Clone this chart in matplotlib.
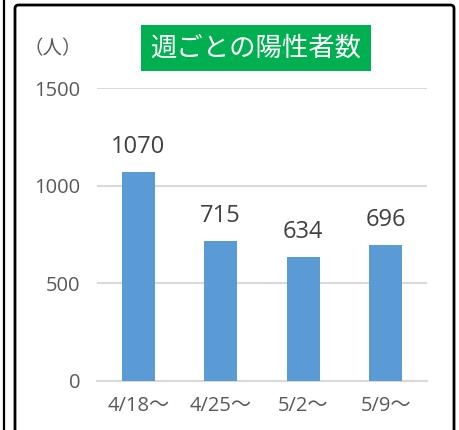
import matplotlib
matplotlib.use('Agg')
import matplotlib.pyplot as plt
from matplotlib.patches import FancyBboxPatch, Rectangle
from matplotlib.lines import Line2D

plt.rcParams['font.family'] = ['Open Sans', 'Noto Sans CJK JP']

weeks = ['4/18～', '4/25～', '5/2～', '5/9～']
cases = [1070, 715, 634, 696]
yticks = [0, 500, 1000, 1500]
title = '週ごとの陽性者数'
unit = '（人）'

W, H = 460, 430
fig = plt.figure(figsize=(W / 100, H / 100), dpi=100)

# frame of the panel and the edge of the neighbouring one
fig.patches.append(FancyBboxPatch((15 / W, -10 / H), 439 / W, 435 / H,
                                  boxstyle='round,pad=0,rounding_size=0.008',
                                  transform=fig.transFigure, fill=False,
                                  edgecolor='black', linewidth=2))
fig.lines.append(Line2D([4 / W, 4 / W], [0, 1], transform=fig.transFigure,
                        color='black', linewidth=1.6))

ax = fig.add_axes([97 / W, 49 / H, 330 / W, 293 / H])
x = range(len(weeks))
ax.bar(x, cases, width=0.4, color='#5B9BD5', zorder=3)
for xi, v in zip(x, cases):
    ax.text(xi, v + 97, str(v), ha='center', va='baseline',
            fontsize=17, color='#404040')

ax.set_xlim(-0.5, len(weeks) - 0.5)
ax.set_ylim(0, 1500)
ax.set_yticks(yticks)
ax.set_yticklabels([str(t) for t in yticks])
ax.set_xticks(list(x))
ax.set_xticklabels(weeks)
ax.tick_params(axis='both', length=0, labelsize=14.5, labelcolor='#595959')
ax.tick_params(axis='y', pad=12)
ax.tick_params(axis='x', pad=11)
ax.grid(axis='y', color='#D9D9D9', linewidth=1.5, zorder=0)
for s in ['top', 'right', 'left']:
    ax.spines[s].set_visible(False)
ax.spines['bottom'].set_color('#D9D9D9')
ax.spines['bottom'].set_linewidth(1.5)

# green title box
fig.patches.append(Rectangle((141 / W, 1 - 71 / H), 230 / W, 46 / H,
                             transform=fig.transFigure, facecolor='#00B050',
                             edgecolor='none'))
fig.text(256 / W, 1 - 48 / H, title, ha='center', va='center',
         fontsize=19, color='white', family='Noto Sans CJK JP')
fig.text(53 / W, 1 - 49 / H, unit, ha='center', va='center',
         fontsize=14, color='#595959', family='Noto Sans CJK JP')

fig.savefig('out.png', dpi=100)
